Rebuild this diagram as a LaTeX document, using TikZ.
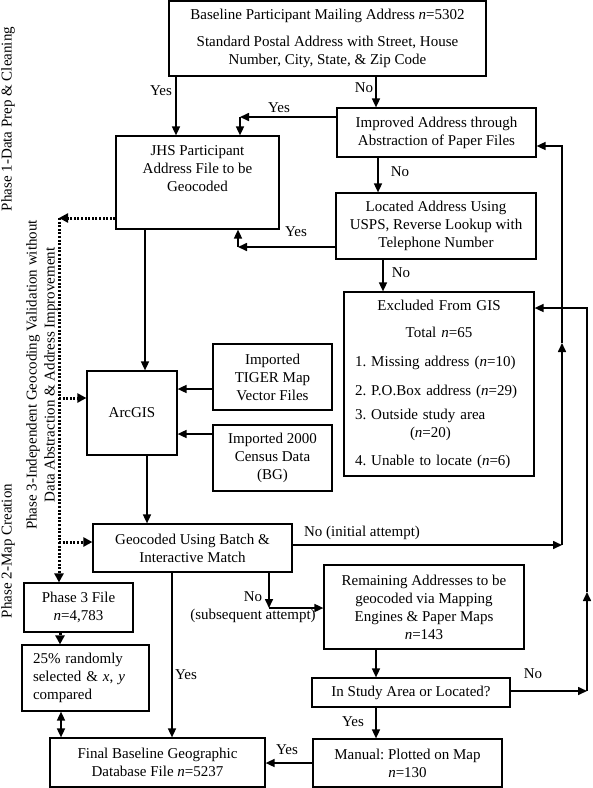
\documentclass[tikz,border=0pt]{standalone}
\usepackage{fontspec}
\setmainfont{Liberation Serif}
\usetikzlibrary{arrows.meta}
\frenchspacing
\begin{document}
\begin{tikzpicture}[x=1pt,y=-1pt,
  font=\fontsize{15}{18}\selectfont,
  box/.style={draw, line width=1.2pt, align=center, inner sep=0pt},
  arr/.style={line width=1.6pt, -{Triangle[length=9pt,width=8pt]}},
  dots/.style={line width=3pt, dash pattern=on 2pt off 1.6pt},
  darr/.style={dots, -{Triangle[length=9pt,width=9pt]}},
  lab/.style={inner sep=0pt}]
\useasboundingbox (0,0) rectangle (593,788);

% boxes
\node[box, minimum width=317pt, minimum height=75pt] (base) at (327.5,38.5)
  {Baseline Participant Mailing Address \textit{n}=5302\\[9pt]
   Standard Postal Address with Street, House\\ Number, City, State, \& Zip Code};
\node[box, minimum width=163pt, minimum height=93pt] (jhs) at (197.5,182.5)
  {JHS Participant\\ Address File to be\\ Geocoded\\[10pt]\mbox{}};
\node[box, minimum width=199pt, minimum height=49pt] (imp) at (436.5,132.5)
  {Improved Address through\\ Abstraction of Paper Files};
\node[box, minimum width=200pt, minimum height=66pt] (loc) at (436,226)
  {Located Address Using\\ USPS, Reverse Lookup with\\ Telephone Number};
\node[box, minimum width=190pt, minimum height=184pt, align=left, text width=168pt] (exc) at (439,384)
  {\makebox[168pt]{Excluded From GIS}\\[9pt]
   \makebox[168pt]{Total \textit{n}=65}\\[11pt]
   1. Missing address (\textit{n}=10)\\[11pt]
   2. P.O.Box address (\textit{n}=29)\\[6pt]
   3. Outside study area\\
   \hspace*{55pt}(\textit{n}=20)\\[10pt]
   4. Unable to locate (\textit{n}=6)};
\node[box, minimum width=90pt, minimum height=84pt] (arc) at (132,413) {ArcGIS};
\node[box, minimum width=119pt, minimum height=66pt] (tig) at (272.5,377)
  {Imported\\ TIGER Map\\ Vector Files};
\node[box, minimum width=119pt, minimum height=66pt] (cen) at (272.5,458)
  {Imported 2000\\ Census Data\\ (BG)};
\node[box, minimum width=199pt, minimum height=48pt] (geo) at (192.5,548)
  {Geocoded Using Batch \&\\ Interactive Match};
\node[box, minimum width=109pt, minimum height=49pt] (ph3) at (78.5,607.5)
  {Phase 3 File\\ \textit{n}=4,783};
\node[box, minimum width=127pt, minimum height=66pt, align=left, text width=105pt] (rnd) at (85.5,678)
  {25\% randomly\\ selected \& \textit{x}, \textit{y}\\ compared};
\node[box, minimum width=215pt, minimum height=49pt] (fin) at (157.5,762.5)
  {Final Baseline Geographic\\ Database File \textit{n}=5237};
\node[box, minimum width=200pt, minimum height=84pt] (rem) at (424,607)
  {Remaining Addresses to be\\ geocoded via Mapping\\ Engines \& Paper Maps\\ \textit{n}=143};
\node[box, minimum width=198pt, minimum height=29pt] (isa) at (411,692.5)
  {In Study Area or Located?};
\node[box, minimum width=189pt, minimum height=48pt] (man) at (407.5,763)
  {Manual: Plotted on Map\\ \textit{n}=130};

% phase labels
\node[rotate=90] (p1) at (8,119) {Phase 1-Data Prep \& Cleaning};
\node[rotate=90, align=center] (p3) at (42,375)
  {Phase 3-Independent Geocoding Validation without\\ Data Abstraction \& Address Improvement};
\node[rotate=90] (p2) at (8,551) {Phase 2-Map Creation};

% helper coordinates
\coordinate (xa) at (176,0);
\coordinate (xb) at (376,0);
\coordinate (xc) at (378,0);
\coordinate (xd) at (383,0);
\coordinate (c1) at (240,117);
\coordinate (c2) at (238,247);
\coordinate (xe) at (145,0);
\coordinate (xf) at (147,0);
\coordinate (yg) at (0,389);
\coordinate (yh) at (0,434);
\coordinate (d0) at (59,218);
\coordinate (yd1) at (0,398);
\coordinate (yd2) at (0,542);
\coordinate (xp) at (60,0);
\coordinate (xq) at (61,0);
\coordinate (e1) at (562,545);
\coordinate (em) at (562,343);
\coordinate (e2) at (562,146);
\coordinate (xs) at (172,0);
\coordinate (g1) at (269,608);
\coordinate (f1) at (587,691);
\coordinate (fm) at (587,592);
\coordinate (f2) at (587,308);

% connectors
\draw[arr] (base.south -| xa) -- (jhs.north -| xa);
\draw[arr] (base.south -| xb) -- (imp.north -| xb);
\draw[arr] (imp.west |- c1) -- (c1);
\draw[arr] (c1) -- (jhs.north -| c1);
\draw[arr] (imp.south -| xc) -- (loc.north -| xc);
\draw[arr] (loc.west |- c2) -- (c2);
\draw[arr] (c2) -- (jhs.south -| c2);
\draw[arr] (loc.south -| xd) -- (exc.north -| xd);
\draw[arr] (jhs.south -| xe) -- (arc.north -| xe);
\draw[arr] (arc.south -| xf) -- (geo.north -| xf);
\draw[arr] (tig.west |- yg) -- (arc.east |- yg);
\draw[arr] (cen.west |- yh) -- (arc.east |- yh);
\draw[darr] (jhs.west |- d0) -- (d0);
\draw[darr] (d0) -- (ph3.north -| d0);
\draw[darr] (d0 |- yd1) -- (arc.west |- yd1);
\draw[darr] (d0 |- yd2) -- (geo.west |- yd2);
\draw[darr] (ph3.south -| xp) -- (rnd.north -| xp);
\draw[line width=1.6pt, {Triangle[length=9pt,width=8pt]}-{Triangle[length=9pt,width=8pt]}] (rnd.south -| xq) -- (fin.north -| xq);
\draw[arr] (geo.east |- e1) -- (e1);
\draw[arr] (e1) -- (em);
\draw[arr] (em) -- (e2) -- (imp.east |- e2);
\draw[arr] (geo.south -| xs) -- (fin.north -| xs);
\draw[arr] (geo.south -| g1) -- (g1);
\draw[arr] (g1) -- (rem.west |- g1);
\draw[arr] (rem.south -| xb) -- (isa.north -| xb);
\draw[arr] (isa.south -| xb) -- (man.north -| xb);
\draw[arr] (isa.east |- f1) -- (f1);
\draw[arr] (f1) -- (fm);
\draw[arr] (fm) -- (f2) -- (exc.east |- f2);
\draw[arr] (man.west) -- (fin.east |- man.west);

% labels
\node[lab] (l1) at (161,91) {Yes};
\node[lab] (l2) at (364,88) {No};
\node[lab] (l3) at (279,108) {Yes};
\node[lab] (l4) at (400,172) {No};
\node[lab] (l5) at (296,232) {Yes};
\node[lab] (l6) at (401,273) {No};
\node[lab] (l7) at (362,533) {No (initial attempt)};
\node[lab, align=center] (l8) at (253,607) {No\\ (subsequent attempt)};
\node[lab] (l9) at (186,675) {Yes};
\node[lab] (l10) at (533,674) {No};
\node[lab] (l11) at (353,722) {Yes};
\node[lab] (l12) at (287,750) {Yes};
\end{tikzpicture}
\end{document}
